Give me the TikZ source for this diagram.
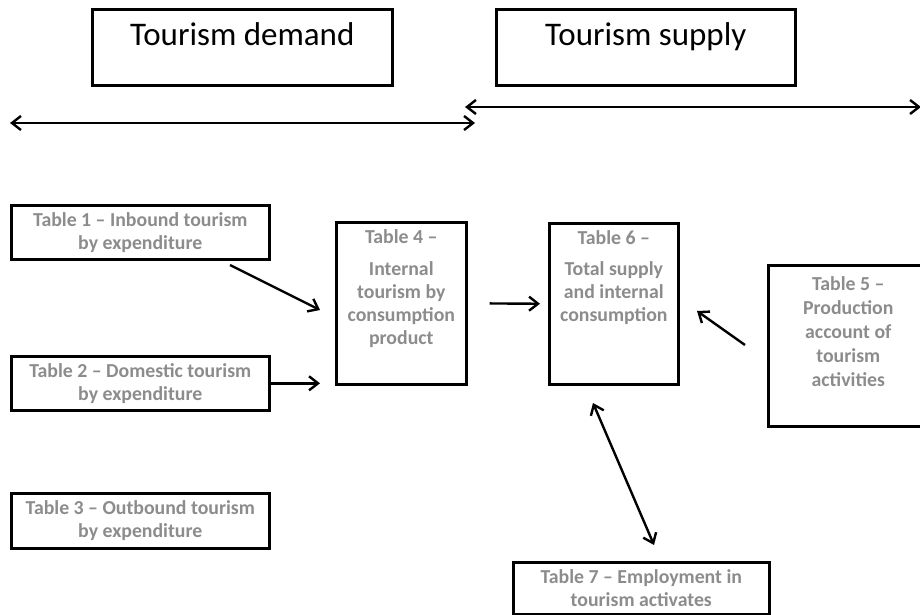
\documentclass[tikz,border=0pt]{standalone}
\usepackage{fontspec}
\setmainfont{Carlito}
\usepackage{xcolor}
\usepackage{tikz}
\usetikzlibrary{arrows.meta, positioning}
\definecolor{tableGray}{HTML}{8C8C8C}

\begin{document}
\begin{tikzpicture}[x=1pt, y=-1pt,
    box/.style={draw, line width=2.6pt, inner sep=0pt, anchor=north west},
    headtext/.style={font=\fontsize{33}{38}\selectfont, inner sep=0pt},
    tabtext/.style={font=\fontsize{19.8}{23.2}\selectfont\bfseries, text=tableGray, align=center, inner sep=0pt},
    arr/.style={line width=2.4pt, -{Straight Barb[length=9pt, width=14pt]}},
    darr/.style={line width=2.4pt, {Straight Barb[length=9pt, width=14pt]}-{Straight Barb[length=9pt, width=14pt]}}]
    \useasboundingbox (0,0) rectangle (920,615);
    % top headings
    \node[box, minimum width=300pt, minimum height=76pt] (dem) at (91,8) {};
    \node[headtext, below=14pt of dem.north] (demtext) {Tourism demand};
    \node[box, minimum width=299pt, minimum height=76pt] (sup) at (495,8) {};
    \node[headtext, below=14pt of sup.north] (suptext) {Tourism supply};
    \coordinate (dl) at (10,123);
    \coordinate (dr) at (475,123);
    \coordinate (sl) at (465,107);
    \coordinate (sr) at (921,107);
    \draw[darr] (dl) -- (dr);
    \draw[darr] (sl) -- (sr);
    % demand tables
    \node[box, tabtext, minimum width=258pt, minimum height=54pt] (t1) at (10,204)
        {Table 1 -- Inbound tourism\\ by expenditure};
    \node[box, tabtext, minimum width=258pt, minimum height=54pt] (t2) at (10,355)
        {Table 2 -- Domestic tourism\\ by expenditure};
    \node[box, tabtext, minimum width=258pt, minimum height=55pt] (t3) at (10,492)
        {Table 3 -- Outbound tourism\\ by expenditure};
    \node[box, minimum width=130pt, minimum height=162pt] (t4) at (335,221) {};
    \node[tabtext, below=8pt of t4.north] (t4text)
        {Table 4 --\\[9pt] Internal\\ tourism by\\ consumption\\ product};
    % supply tables
    \node[box, minimum width=129pt, minimum height=161pt] (t6) at (548,222) {};
    \node[tabtext, below=8pt of t6.north] (t6text)
        {Table 6 --\\[8pt] Total supply\\ and internal\\ consumption};
    \node[box, minimum width=160pt, minimum height=161pt] (t5) at (767,264) {};
    \node[tabtext, below=12pt of t5.north] (t5text)
        {Table 5 --\\[1pt] Production\\[1pt] account of\\[1pt] tourism\\[1pt] activities};
    \node[box, tabtext, minimum width=256pt, minimum height=52pt] (t7) at (512,561)
        {Table 7 -- Employment in\\ tourism activates};
    % arrows
    \coordinate (a1s) at (230,265);
    \coordinate (a1e) at (320,310);
    \coordinate (a4s) at (745,345);
    \coordinate (a4e) at (697,311);
    \coordinate (a5s) at (593,403);
    \coordinate (a5e) at (654,545);
    \draw[arr] (a1s) -- (a1e);
    \draw[arr, shorten >=15pt] (t2.east) -- (t2.east -| t4.west);
    \draw[arr, shorten <=22pt, shorten >=8pt] (t4.east) -- (t6.west);
    \draw[arr] (a4s) -- (a4e);
    \draw[darr] (a5s) -- (a5e);
\end{tikzpicture}
\end{document}
